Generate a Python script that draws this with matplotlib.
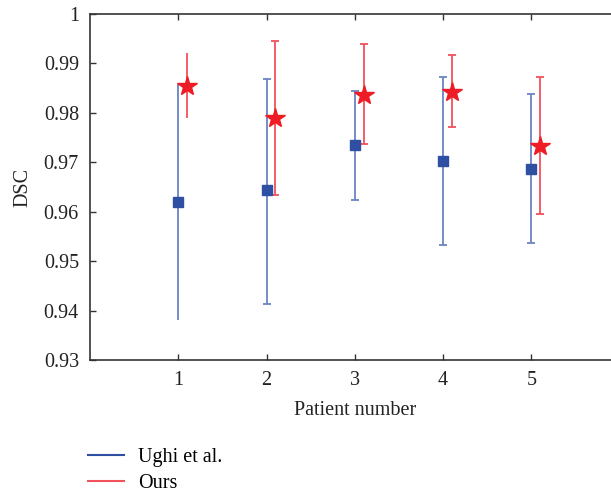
import matplotlib
matplotlib.use("Agg")
import matplotlib.pyplot as plt
import numpy as np

patients = [1, 2, 3, 4, 5]
ughi_mean = [0.9620, 0.9643, 0.9734, 0.9703, 0.9687]
ughi_low = [0.9381, 0.9413, 0.9623, 0.9533, 0.9536]
ughi_high = [0.9858, 0.9868, 0.9844, 0.9873, 0.9838]
ours_mean = [0.9854, 0.9789, 0.9836, 0.9843, 0.9732]
ours_low = [0.9790, 0.9634, 0.9737, 0.9772, 0.9595]
ours_high = [0.9921, 0.9945, 0.9940, 0.9918, 0.9873]
caps = [0, 3, 3, 3, 3]

plt.rcParams['font.family'] = ['Liberation Serif', 'DejaVu Serif']

fig = plt.figure(figsize=(6.11, 4.94), dpi=100)
ax = fig.add_axes([90/611, (494-360)/494, (619.5-90)/611, 346/494])

blue_pt = '#2f4fa3'
blue_ln = '#6b84c2'
red_pt = '#ee1c25'
red_ln = '#f2525c'

x = np.array(patients, dtype=float)
um = np.array(ughi_mean); ul = np.array(ughi_low); uh = np.array(ughi_high)
om = np.array(ours_mean); ol = np.array(ours_low); oh = np.array(ours_high)

for i in range(len(patients)):
    ax.errorbar(x[i], um[i], yerr=[[um[i]-ul[i]], [uh[i]-um[i]]], fmt='none',
                ecolor=blue_ln, elinewidth=1.3, capsize=caps[i], capthick=1.3, zorder=2)
    ax.errorbar(x[i]+0.1, om[i], yerr=[[om[i]-ol[i]], [oh[i]-om[i]]], fmt='none',
                ecolor=red_ln, elinewidth=1.3, capsize=caps[i], capthick=1.3, zorder=2)
ax.plot(x, um, 's', color=blue_pt, markersize=7.5, linestyle='none', zorder=3)
ax.plot(x+0.1, om, '*', color=red_pt, markersize=14.5, linestyle='none', zorder=3)

ax.set_xlim(0, 6)
ax.set_ylim(0.93, 1.0)
ax.set_xticks(patients)
ax.set_xticklabels([str(p) for p in patients])
ax.set_yticks(np.round(np.arange(0.93, 1.0001, 0.01), 2))
ax.set_yticklabels(['0.93', '0.94', '0.95', '0.96', '0.97', '0.98', '0.99', '1'])
ax.tick_params(direction='in', length=4, width=1, colors='#333333', labelcolor='#222222',
               labelsize=14.5, top=True, right=False, pad=8)
for s in ax.spines.values():
    s.set_color('#333333')
    s.set_linewidth(1.2)
ax.set_xlabel('Patient number', fontsize=14.5, color='#222222', labelpad=8)
ax.set_ylabel('DSC', fontsize=14.5, color='#222222', labelpad=8)

from matplotlib.lines import Line2D
handles = [Line2D([], [], color='#2f4fa3', lw=1.5), Line2D([], [], color=red_ln, lw=1.5)]
fig.legend(handles, ['Ughi et al.', 'Ours'], loc='upper left',
           bbox_to_anchor=(88/611, 1-448/494), frameon=False, fontsize=14.5,
           handlelength=1.8, handletextpad=0.7, labelspacing=0.32, borderaxespad=0,
           borderpad=0)

fig.savefig('out.png', dpi=100)
